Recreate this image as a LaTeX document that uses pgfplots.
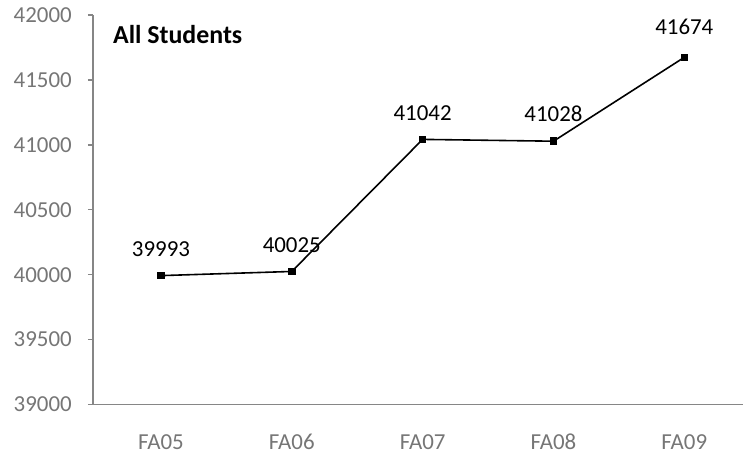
\documentclass[border=0pt]{standalone}
\usepackage{fontspec}
\setmainfont{Carlito}
\usepackage{pgfplots}
\pgfplotsset{compat=1.18}
\definecolor{axgray}{RGB}{134,134,134}
\definecolor{lblgray}{RGB}{118,118,118}
\begin{document}
\begin{tikzpicture}
\begin{axis}[
  scale only axis,
  width=651bp, height=390bp,
  xmin=-0.52, xmax=4.45,
  ymin=39000, ymax=42000,
  axis x line*=bottom, axis y line*=left,
  axis line style={axgray, line width=1.6bp},
  xtick={0,1,2,3,4},
  xticklabels={FA05,FA06,FA07,FA08,FA09},
  x tick style={draw=none},
  ytick={39000,39500,40000,40500,41000,41500,42000},
  y tick style={axgray, line width=1.4bp},
  tick align=outside,
  major tick length=5bp,
  scaled y ticks=false,
  yticklabel style={/pgf/number format/1000 sep={}, font=\fontsize{23}{27}\selectfont, text=lblgray, inner sep=0pt, anchor=east, xshift=-16bp},
  xticklabel style={font=\fontsize{23}{27}\selectfont, text=lblgray, inner sep=0pt, anchor=north, text height=14.8bp, text depth=0pt, yshift=-25bp},
  /pgf/number format/assume math mode=true,
  clip=false,
]
\addplot[black, line width=1.6bp, mark=square*, mark size=3bp, mark options={solid}]
  coordinates {(0,39993) (1,40025) (2,41042) (3,41028) (4,41674)};
\foreach \x/\y/\v/\s in {0/39993/39993/19, 1/40025/40025/19, 2/41042/41042/19, 3/41028/41028/19, 4/41674/41674/22}{
  \edef\tmp{\noexpand\node[font=\noexpand\fontsize{23}{27}\noexpand\selectfont, anchor=south, inner sep=0pt] at (axis cs:\x,\y) [yshift=\s bp] {\v};}
  \tmp
}
\node[font=\fontsize{26}{30}\selectfont\bfseries, anchor=north west, inner sep=0pt] at (rel axis cs:0,1) [xshift=20bp, yshift=-10bp] {All Students};
\end{axis}
\path (current axis.south west) ++(-93bp,-51bp) rectangle ++(744bp,456bp);
\end{tikzpicture}
\end{document}
